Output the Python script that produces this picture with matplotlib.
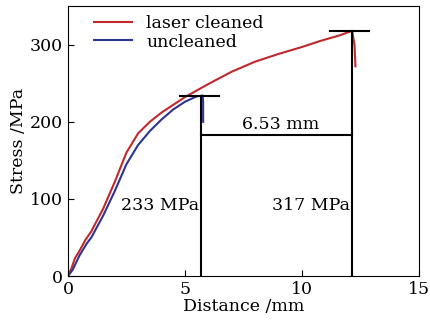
import numpy as np
import matplotlib.pyplot as plt

plt.rcParams['font.family'] = ['DejaVu Serif']

# laser cleaned sample
dist_laser = [0, 0.15, 0.3, 0.5, 0.75, 1.0, 1.5, 2.0, 2.5, 3.0, 3.5, 4.0, 5.0, 6.0,
              7.0, 8.0, 9.0, 10.0, 10.8, 11.6, 12.15, 12.25, 12.29]
stress_laser = [0, 10, 23, 33, 47, 58, 87, 122, 160, 185, 200, 212, 232, 249,
                265, 278, 288, 297, 305, 312, 318, 300, 272]

# uncleaned sample
dist_uncl = [0, 0.2, 0.5, 0.8, 1.0, 1.5, 2.0, 2.5, 3.0, 3.5, 4.0, 4.5, 5.0, 5.5,
             5.76, 5.78, 5.78]
stress_uncl = [0, 8, 27, 42, 50, 78, 110, 145, 170, 188, 203, 216, 226, 233,
               234, 225, 200]

peak_uncl = 234
peak_laser = 318
x_uncl = 5.7
x_laser = 12.15
y_gap = 183

fig = plt.figure(figsize=(4.3, 3.24), dpi=100)
ax = fig.add_axes([0.158, 0.148, 0.816, 0.833])

ax.plot(dist_laser, stress_laser, color='#c0282d', lw=1.5, label='laser cleaned')
ax.plot(dist_uncl, stress_uncl, color='#2c3590', lw=1.5, label='uncleaned')

# annotation lines
ax.plot([4.8, 6.45], [peak_uncl, peak_uncl], color='black', lw=1.5)
ax.plot([x_uncl, x_uncl], [0, peak_uncl], color='black', lw=1.5)
ax.plot([11.2, 12.85], [peak_laser, peak_laser], color='black', lw=1.5)
ax.plot([x_laser, x_laser], [0, peak_laser], color='black', lw=1.5)
ax.plot([x_uncl, x_laser], [y_gap, y_gap], color='black', lw=1.5)

ax.text(9.1, y_gap + 3, '6.53 mm', ha='center', va='bottom', fontsize=12.5)
ax.text(5.6, 92, '233 MPa', ha='right', va='center', fontsize=12.5)
ax.text(12.05, 92, '317 MPa', ha='right', va='center', fontsize=12.5)

ax.set_xlim(0, 15)
ax.set_ylim(0, 350)
ax.set_xticks([0, 5, 10, 15])
ax.set_yticks([0, 100, 200, 300])
ax.tick_params(direction='in', labelsize=12.5, length=4)
ax.set_xlabel('Distance /mm', fontsize=12.5, labelpad=0)
ax.set_ylabel('Stress /MPa', fontsize=12.5, labelpad=2)

ax.legend(loc='upper left', frameon=False, fontsize=12.5, handlelength=2.2,
          borderaxespad=0.1, labelspacing=0.1, bbox_to_anchor=(0.05, 1.0))

fig.savefig('out.png', dpi=100)
